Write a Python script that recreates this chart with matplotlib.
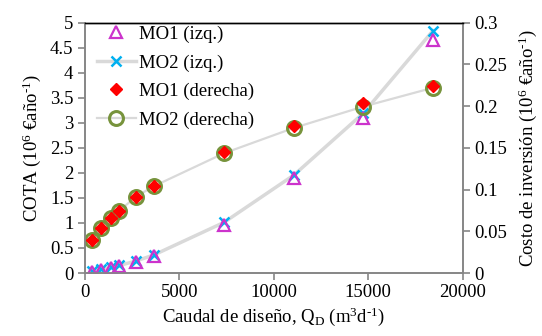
import matplotlib
matplotlib.use('Agg')
import matplotlib.pyplot as plt
from matplotlib.ticker import FuncFormatter

plt.rcParams['font.family'] = ['Liberation Serif', 'DejaVu Serif']
plt.rcParams['mathtext.fontset'] = 'custom'
plt.rcParams['mathtext.rm'] = 'Liberation Serif'
plt.rcParams['mathtext.it'] = 'Liberation Serif'

# caudal de diseno (m3/d)
caudal = [410, 870, 1400, 1840, 2720, 3660, 7370, 11080, 14730, 18420]

# COTA, eje izquierdo (10^6 EUR/ano)
mo1_izq = [0.02, 0.06, 0.10, 0.14, 0.22, 0.34, 0.95, 1.89, 3.10, 4.66]
mo2_izq = [0.03, 0.07, 0.11, 0.15, 0.24, 0.36, 1.01, 1.96, 3.19, 4.84]

# costo de inversion, eje derecho (10^6 EUR/ano)
mo1_der = [0.0396, 0.054, 0.0663, 0.0747, 0.0915, 0.1047, 0.145, 0.1766, 0.2035, 0.2246]
mo2_der = [0.0396, 0.054, 0.0663, 0.0747, 0.0915, 0.104, 0.1435, 0.174, 0.1994, 0.222]

gris = '#868686'
fs = 13.5

fig = plt.figure(figsize=(5.42, 3.36), dpi=100)
ax = fig.add_axes([0.156, 0.1875, 0.698, 0.745])
ax2 = ax.twinx()

l2, = ax.plot(caudal, mo2_izq, color='#d9d9d9', lw=2.5, marker='x', ms=7,
              mec='#00b0f0', mew=1.8, label='MO2 (izq.)', zorder=2)
l1, = ax.plot(caudal, mo1_izq, ls='none', marker='^', ms=8.5, mfc='none',
              mec='#cc33cc', mew=1.6, label='MO1 (izq.)', zorder=3)

l4, = ax2.plot(caudal, mo2_der, color='#d9d9d9', lw=1.6, marker='o', ms=10,
               mfc='none', mec='#77933c', mew=2.2, label='MO2 (derecha)', zorder=2)
l3, = ax2.plot(caudal, mo1_der, ls='none', marker='D', ms=6.5, mfc='#ff0000',
               mec='#ff0000', label='MO1 (derecha)', zorder=3)

ax.set_xlim(0, 20000)
ax.set_ylim(0, 5)
ax2.set_ylim(0, 0.3)
ax.set_xticks([0, 5000, 10000, 15000, 20000])
ax.set_yticks([i * 0.5 for i in range(11)])
ax2.set_yticks([i * 0.05 for i in range(7)])
fmt = FuncFormatter(lambda v, p: ('%.2f' % v).rstrip('0').rstrip('.'))
ax.yaxis.set_major_formatter(fmt)
ax2.yaxis.set_major_formatter(fmt)

for a in (ax, ax2):
    for s in a.spines.values():
        s.set_color(gris)
        s.set_linewidth(1.2)
    a.spines['top'].set_color('black')
    a.spines['top'].set_linewidth(1.0)
    a.tick_params(labelsize=fs, color=gris, width=1.2, length=5, direction='out', pad=3)

ax.set_xlabel('Caudal de diseño, Q$_{\\mathregular{D}}$ (m$^{\\mathregular{3}}$d$^{\\text{-1}}$)',
              fontsize=fs, labelpad=3)
ax.set_ylabel('COTA (10$^{\\mathregular{6}}$ €año$^{\\text{-1}}$)', fontsize=fs, labelpad=5)
ax2.set_ylabel('Costo de inversión (10$^{\\mathregular{6}}$ €año$^{\\text{-1}}$)',
               fontsize=fs, labelpad=7)

ax2.legend([l1, l2, l3, l4], ['MO1 (izq.)', 'MO2 (izq.)', 'MO1 (derecha)', 'MO2 (derecha)'],
           loc='upper left', frameon=False, fontsize=fs, handlelength=2.1,
           handletextpad=0.15, labelspacing=0.6, borderaxespad=0.0,
           bbox_to_anchor=(0.012, 1.018))

fig.savefig('out.png', dpi=100)
